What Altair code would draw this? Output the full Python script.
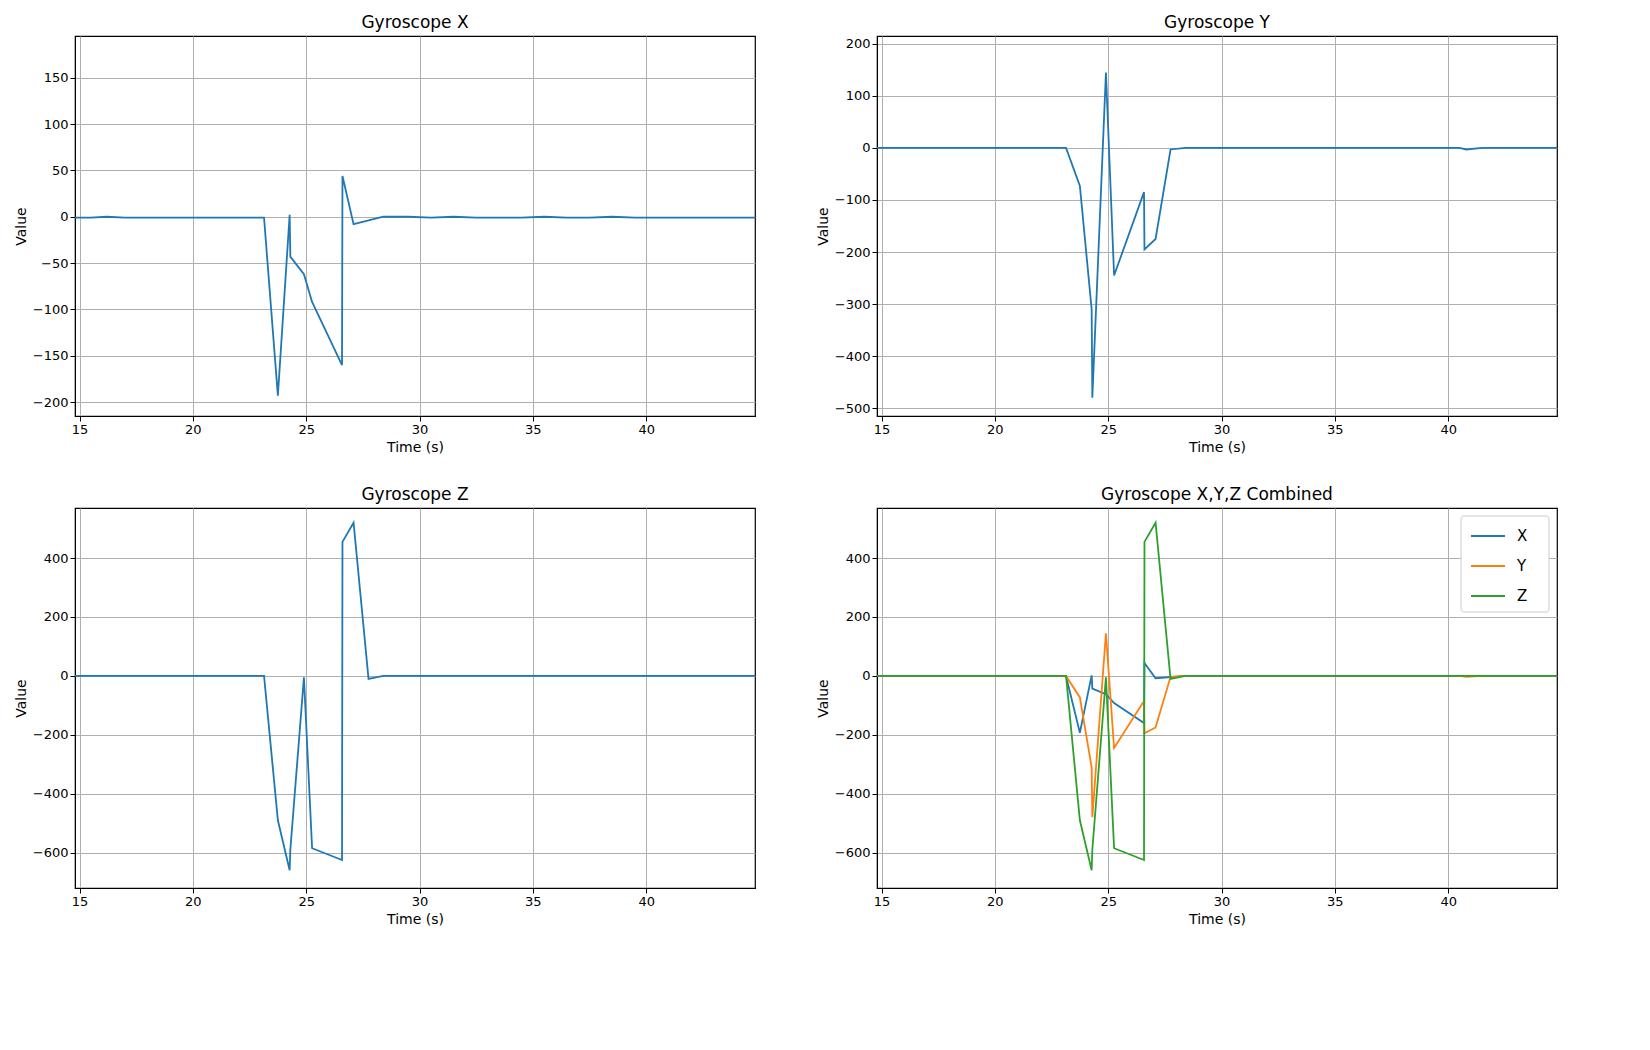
import altair as alt
import pandas as pd

time = [14.8, 15.5, 16.2, 17.0, 18.0, 18.8, 19.5, 20.5, 21.5, 22.5, 23.14, 23.75, 24.27, 24.3, 24.9, 25.26, 26.58, 26.6, 27.09, 27.75, 28.4,
        29.5, 30.5, 31.5, 32.5, 33.5, 34.5, 35.5, 36.5, 37.5, 38.5, 39.5, 40.5, 40.8, 41.5, 42.5, 43.5, 44.8]
gx = [-1, -1, 0, -1, -1, -1, -1, -1, -1, -1, -1, -193, 2, -43, -62, -92, -160, 44, -8, -4, 0,
      0, -1, 0, -1, -1, -1, 0, -1, -1, 0, -1, -1, -1, -1, -1, -1, -1]
gy = [0, 0, 0, 0, 0, 0, 0, 0, 0, 0, 0, -73, -310, -480, 145, -245, -85, -195, -175, -3, 0,
      0, 0, 0, 0, 0, 0, 0, 0, 0, 0, 0, 0, -3, 0, 0, 0, 0]
gz = [0, 0, 0, 0, 0, 0, 0, 0, 0, 0, 0, -490, -660, -590, -5, -585, -625, 455, 520, -10, 0,
      0, 0, 0, 0, 0, 0, 0, 0, 0, 0, 0, 0, 0, 0, 0, 0, 0]
series = ["X", "Y", "Z"]
colors = ["#1f77b4", "#ff7f0e", "#2ca02c"]

df = pd.DataFrame({"t": time, "X": gx, "Y": gy, "Z": gz})
long = df.melt("t", var_name="axis", value_name="v")

W, H = 680, 380
xax = alt.X("t:Q", title="Time (s)", scale=alt.Scale(domain=[14.8, 44.8], nice=False),
            axis=alt.Axis(values=[15, 20, 25, 30, 35, 40]))

def panel(col, title, dom, vals):
    return alt.Chart(df).mark_line(color="#1f77b4", strokeWidth=1.8).encode(
        x=xax,
        y=alt.Y(f"{col}:Q", title="Value", scale=alt.Scale(domain=dom, nice=False),
                axis=alt.Axis(values=vals)),
    ).properties(width=W, height=H, title=title)

c1 = panel("X", "Gyroscope X", [-215, 195], [-200, -150, -100, -50, 0, 50, 100, 150])
c2 = panel("Y", "Gyroscope Y", [-515, 215], [-500, -400, -300, -200, -100, 0, 100, 200])
c3 = panel("Z", "Gyroscope Z", [-720, 570], [-600, -400, -200, 0, 200, 400])

lines4 = alt.Chart(long).mark_line(strokeWidth=1.8).encode(
    x=xax,
    y=alt.Y("v:Q", title="Value", scale=alt.Scale(domain=[-720, 570], nice=False),
            axis=alt.Axis(values=[-600, -400, -200, 0, 200, 400])),
    color=alt.Color("axis:N", scale=alt.Scale(domain=series, range=colors), legend=None),
)
# legend box drawn inside the panel
box = alt.Chart(pd.DataFrame({"a": [0]})).mark_rect(
    fill="white", stroke="#cccccc", cornerRadius=3).encode(
    x=alt.value(W - 96), x2=alt.value(W - 8), y=alt.value(8), y2=alt.value(104))
legs = []
for i, (s, c) in enumerate(zip(series, colors)):
    yy = 28 + i * 30
    legs.append(alt.Chart(pd.DataFrame({"a": [0]})).mark_rule(color=c, strokeWidth=2).encode(
        x=alt.value(W - 86), x2=alt.value(W - 52), y=alt.value(yy)))
    legs.append(alt.Chart(pd.DataFrame({"a": [0]})).mark_text(
        text=s, align="left", baseline="middle", fontSize=15, font="DejaVu Sans").encode(
        x=alt.value(W - 40), y=alt.value(yy)))
c4 = alt.layer(lines4, box, *legs).properties(width=W, height=H, title="Gyroscope X,Y,Z Combined")

chart = alt.vconcat(alt.hconcat(c1, c2, spacing=55), alt.hconcat(c3, c4, spacing=55), spacing=30).configure_axis(
    grid=True, gridColor="#b0b0b0", labelFontSize=13, titleFontSize=14, titleFontWeight="normal",
    domainColor="black", tickColor="black", labelColor="black", titleColor="black",
    labelFont="DejaVu Sans", titleFont="DejaVu Sans"
).configure_title(fontSize=17, fontWeight="normal", font="DejaVu Sans").configure_view(
    stroke="black", strokeWidth=1.2
)

chart.save("out.html", embed_options={"renderer": "svg", "actions": False})
